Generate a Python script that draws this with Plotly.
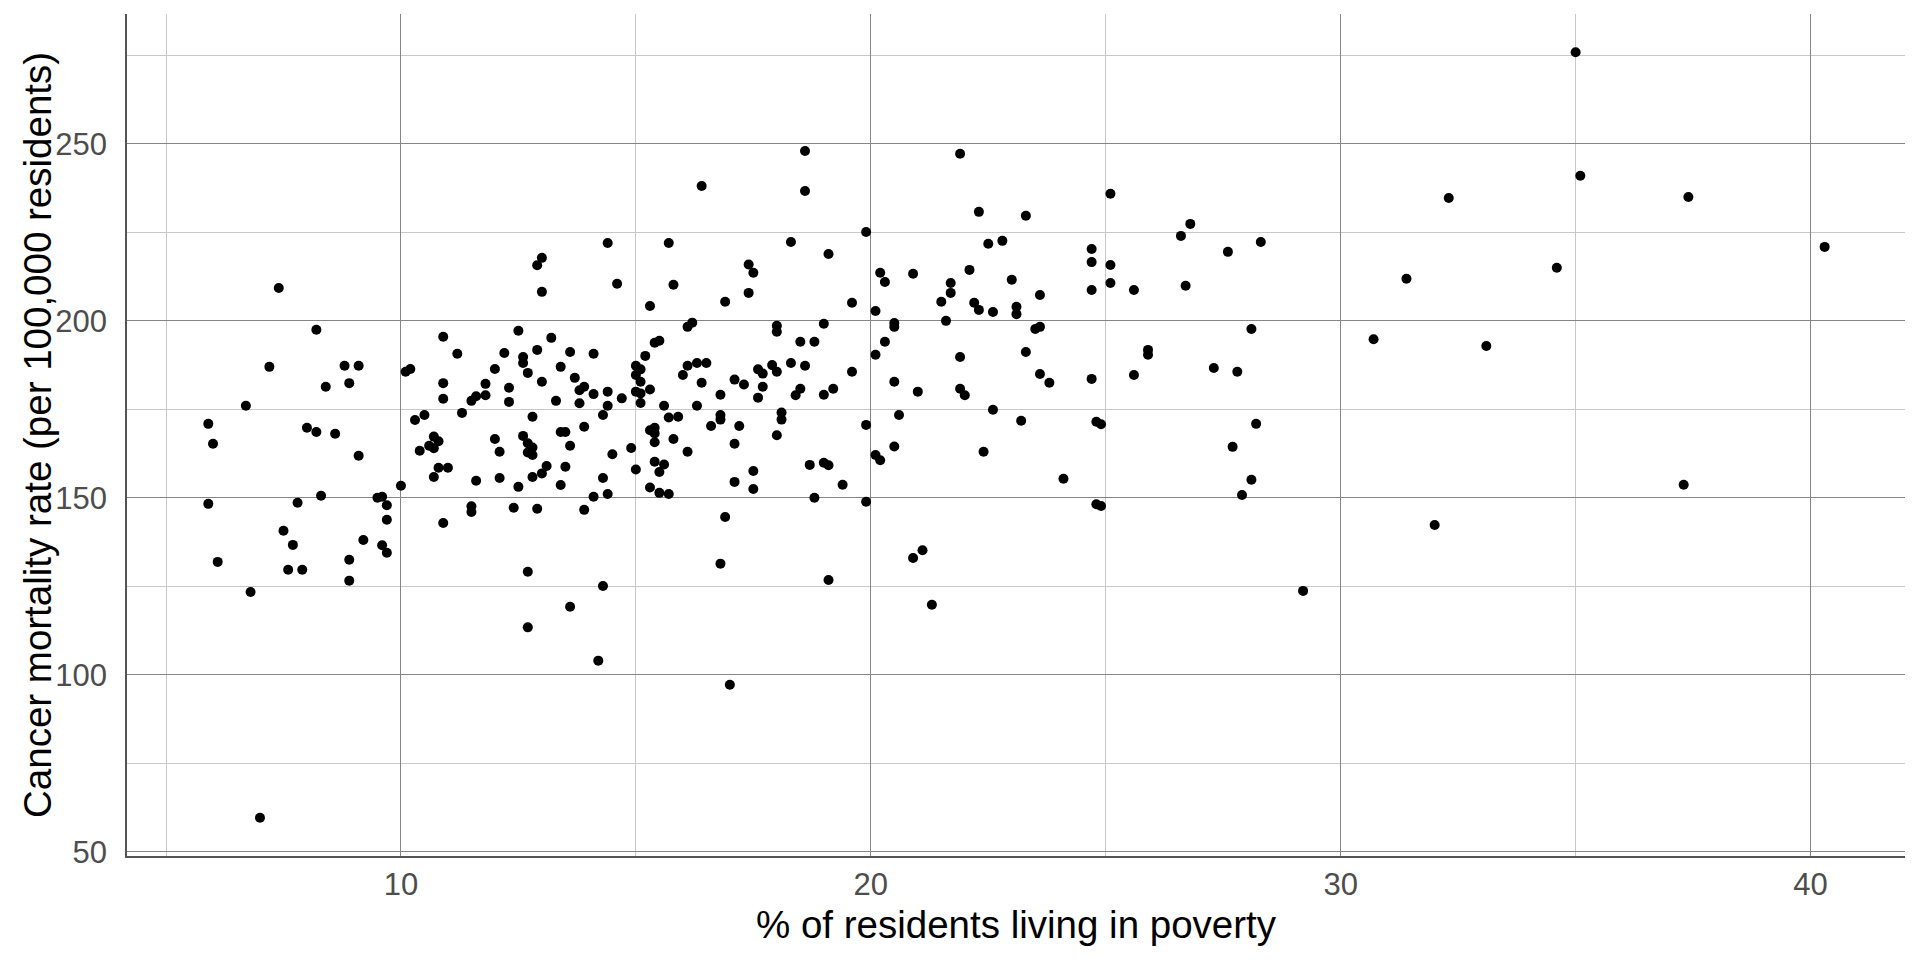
import plotly.graph_objects as go

# % of residents living in poverty (one value per county)
poverty_pct = [
    7.4, 8.2, 7.2, 8.8, 9.1, 10.1, 10.2, 10.9, 11.2, 8.9,
    8.4, 10.9, 10.9, 11.5, 11.6, 6.7, 11.3, 5.9, 6.0, 8.0,
    8.2, 8.6, 9.1, 10.3, 10.5, 10.7, 10.8, 10.6, 10.7, 10.4,
    10.8, 11.0, 10.7, 11.6, 10.0, 5.9, 7.8, 8.3, 9.5, 9.6,
    9.7, 9.7, 11.5, 11.5, 10.9, 7.5, 7.7, 9.2, 9.6, 9.7,
    6.1, 7.6, 7.9, 8.9, 8.9, 6.8, 7.0,
    16.4, 14.4, 15.7, 12.9, 13.0, 13.0, 14.6, 15.8, 15.3, 17.4,
    17.5, 17.4, 16.9, 16.1, 16.2, 12.5, 13.2, 12.2, 12.6, 12.6,
    12.9, 13.6, 14.1, 13.4, 12.0, 12.7, 13.0, 13.7, 11.8, 12.3,
    11.8, 13.8, 13.9, 14.1, 14.4, 14.7, 15.0, 15.1, 15.0, 15.1,
    15.2, 15.4, 15.5, 15.0, 15.1, 15.3, 16.1, 16.3, 16.5, 16.0,
    16.4, 16.8, 17.1, 17.3, 17.6, 17.7, 17.9, 17.7, 17.6,
    12.3, 13.3, 13.8, 14.4, 15.1, 15.6, 16.3, 12.8, 12.0, 12.1,
    12.6, 12.7, 12.8, 12.7, 12.8, 13.4, 13.5, 13.9, 14.3, 13.6,
    13.1, 13.0, 12.8, 13.5, 12.1, 12.5, 13.4, 14.3, 14.1, 14.4,
    14.5, 14.9, 15.0, 15.3, 15.4, 15.4, 15.4, 15.8, 15.7, 15.9,
    15.4, 15.6, 15.5, 16.1, 15.3, 15.5, 15.7, 16.6, 16.8, 16.8,
    17.2, 17.1, 17.5, 17.1, 17.5, 12.4, 12.9, 13.9, 16.9, 16.8,
    12.7, 14.3, 13.6, 12.7, 14.2, 17.0,
    18.6, 18.6, 21.9, 22.3, 23.3, 19.9, 18.3, 19.1, 22.5, 22.8,
    20.2, 20.3, 20.9, 22.1, 21.7, 21.7, 21.5, 23.0, 23.6, 19.6,
    20.1, 22.2, 22.3, 22.6, 23.1, 23.1, 21.6, 20.5, 20.5, 18.0,
    18.0, 19.0, 18.5, 18.8, 20.3, 20.1, 21.9, 23.5, 23.6, 23.3,
    18.3, 18.0, 18.6, 19.6, 18.5, 18.4, 19.0, 19.2, 20.5, 21.0,
    21.9, 22.0, 23.6, 23.8,
    18.1, 18.1, 18.0, 19.9, 20.6, 22.6, 23.2, 20.5, 20.1, 20.2,
    22.4, 18.7, 19.0, 19.1, 19.4, 18.8, 19.9, 20.9, 21.1, 19.1,
    21.3,
    25.1, 26.8, 26.6, 24.7, 28.3, 27.6, 24.7, 25.1, 25.1, 24.7,
    25.6, 26.7, 28.1, 25.9, 25.9, 24.7, 25.6, 27.3, 27.8,
    24.8, 24.9, 28.2, 27.7, 24.1, 28.1, 27.9, 24.8, 24.9, 29.2,
    35.0, 35.1, 32.3, 37.4, 40.3, 34.6, 31.4, 30.7, 33.1, 37.3,
    32.0,
]

# Cancer mortality rate per 100,000 residents
mortality_rate = [
    209.3, 197.5, 187.0, 187.3, 187.3, 185.6, 186.4, 195.5, 190.7, 182.4,
    181.4, 182.4, 178.0, 177.4, 178.7, 176.0, 174.0, 170.9, 165.3, 169.8,
    168.6, 168.1, 161.9, 172.0, 173.4, 167.3, 166.0, 164.7, 164.0, 163.3,
    158.5, 158.5, 155.9, 154.8, 153.4, 148.3, 148.6, 150.6, 150.0, 150.3,
    147.9, 143.8, 147.6, 146.0, 142.9, 140.7, 136.7, 138.1, 136.6, 134.5,
    131.9, 129.7, 129.7, 132.5, 126.6, 123.4, 59.6,
    238.1, 222.0, 222.0, 215.7, 217.8, 208.2, 210.5, 210.2, 204.2, 215.9,
    213.6, 207.9, 205.4, 198.3, 199.5, 197.2, 195.2, 190.9, 189.8, 188.1,
    191.8, 191.2, 190.7, 187.0, 186.4, 185.3, 182.8, 183.9, 182.2, 181.1,
    179.0, 180.4, 181.4, 179.3, 180.0, 178.1, 187.3, 186.3, 184.7, 182.8,
    190.1, 193.8, 194.4, 180.0, 179.5, 180.6, 187.3, 188.1, 188.1, 184.7,
    182.5, 179.1, 183.4, 182.0, 186.3, 185.1, 187.5, 181.4, 178.3,
    177.1, 177.4, 176.7, 176.0, 176.8, 176.0, 176.0, 172.9, 166.6, 163.0,
    167.5, 165.4, 164.2, 162.8, 162.1, 168.6, 168.6, 170.1, 173.4, 164.7,
    159.0, 156.9, 155.9, 158.8, 155.6, 153.1, 153.6, 155.6, 150.3, 151.1,
    162.3, 164.1, 158.0, 169.1, 169.8, 168.2, 165.7, 166.6, 172.7, 172.9,
    160.2, 159.4, 157.3, 163.0, 152.9, 151.4, 151.1, 170.3, 173.4, 172.1,
    170.3, 165.3, 157.6, 154.5, 152.5, 147.2, 146.9, 146.6, 144.6, 131.4,
    129.1, 125.1, 119.2, 113.4, 104.0, 97.2,
    248.0, 236.7, 247.2, 230.8, 229.7, 225.1, 222.3, 218.9, 221.8, 222.6,
    213.6, 211.0, 213.3, 214.4, 210.7, 207.9, 205.4, 211.6, 207.3, 205.1,
    202.8, 205.1, 203.1, 202.5, 204.0, 201.9, 200.0, 199.4, 198.3, 198.6,
    196.9, 199.2, 194.1, 194.1, 194.1, 190.4, 189.8, 197.7, 198.3, 191.2,
    188.1, 185.6, 187.3, 185.6, 180.8, 179.0, 179.1, 180.8, 182.8, 180.0,
    180.8, 179.0, 185.0, 182.5,
    174.1, 172.1, 167.7, 170.6, 173.4, 174.9, 171.8, 164.5, 162.1, 160.6,
    163.0, 159.3, 159.9, 159.2, 153.7, 150.0, 148.9, 133.0, 135.2, 126.8,
    119.8,
    235.9, 227.4, 224.0, 220.3, 222.3, 219.5, 216.6, 215.8, 210.7, 208.7,
    208.7, 209.9, 197.7, 191.8, 190.4, 183.6, 184.7, 186.7, 185.6,
    171.5, 170.8, 170.9, 164.4, 155.4, 155.1, 150.8, 148.2, 147.7, 123.7,
    275.9, 241.0, 234.7, 235.0, 220.9, 215.0, 211.9, 194.8, 192.9, 153.7,
    142.3,
]

x_ticks = [10, 20, 30, 40]
y_ticks = [50, 100, 150, 200, 250]

FONT = "Liberation Sans, Arial, sans-serif"
MAJOR_GRID = "#858585"
MINOR_GRID = "#c8c8c8"
AXIS_LINE = "#555555"
TICK_TEXT = "#4d4d4d"

fig = go.Figure()
fig.add_trace(go.Scatter(
    x=poverty_pct, y=mortality_rate, mode="markers",
    marker=dict(color="black", size=10, line=dict(width=0)),
    showlegend=False,
))

fig.update_xaxes(
    range=[4.17, 42.01], tickvals=x_ticks, showgrid=True,
    gridcolor=MAJOR_GRID, gridwidth=1.3,
    minor=dict(dtick=5, tick0=0, showgrid=True, gridcolor=MINOR_GRID, gridwidth=1),
    showline=True, linecolor=AXIS_LINE, linewidth=1.6,
    zeroline=False, ticks="", ticklen=0, ticklabelstandoff=0,
    tickfont=dict(family=FONT, size=31, color=TICK_TEXT),
)
fig.update_yaxes(
    range=[48.8, 286.7], tickvals=y_ticks, showgrid=True,
    gridcolor=MAJOR_GRID, gridwidth=1.3,
    minor=dict(dtick=25, tick0=0, showgrid=True, gridcolor=MINOR_GRID, gridwidth=1),
    showline=True, linecolor=AXIS_LINE, linewidth=1.6,
    zeroline=False, ticks="", ticklabelstandoff=12,
    tickfont=dict(family=FONT, size=31, color=TICK_TEXT),
)

fig.add_annotation(
    text="% of residents living in poverty", xref="paper", yref="paper",
    x=0.5, y=0, xanchor="center", yanchor="middle", yshift=-68,
    showarrow=False, font=dict(family=FONT, size=38.5, color="black"),
)
fig.add_annotation(
    text="Cancer mortality rate (per 100,000 residents)", xref="paper", yref="paper",
    x=0, y=0.5, xanchor="center", yanchor="middle", xshift=-90, textangle=-90,
    showarrow=False, font=dict(family=FONT, size=38.5, color="black"),
)

# the page body adds an 8px margin, so the figure is 16px smaller each way
fig.update_layout(
    width=1904, height=944,
    margin=dict(l=119, r=7, t=6, b=96),
    plot_bgcolor="white", paper_bgcolor="white",
)

fig.write_html("out.html")
